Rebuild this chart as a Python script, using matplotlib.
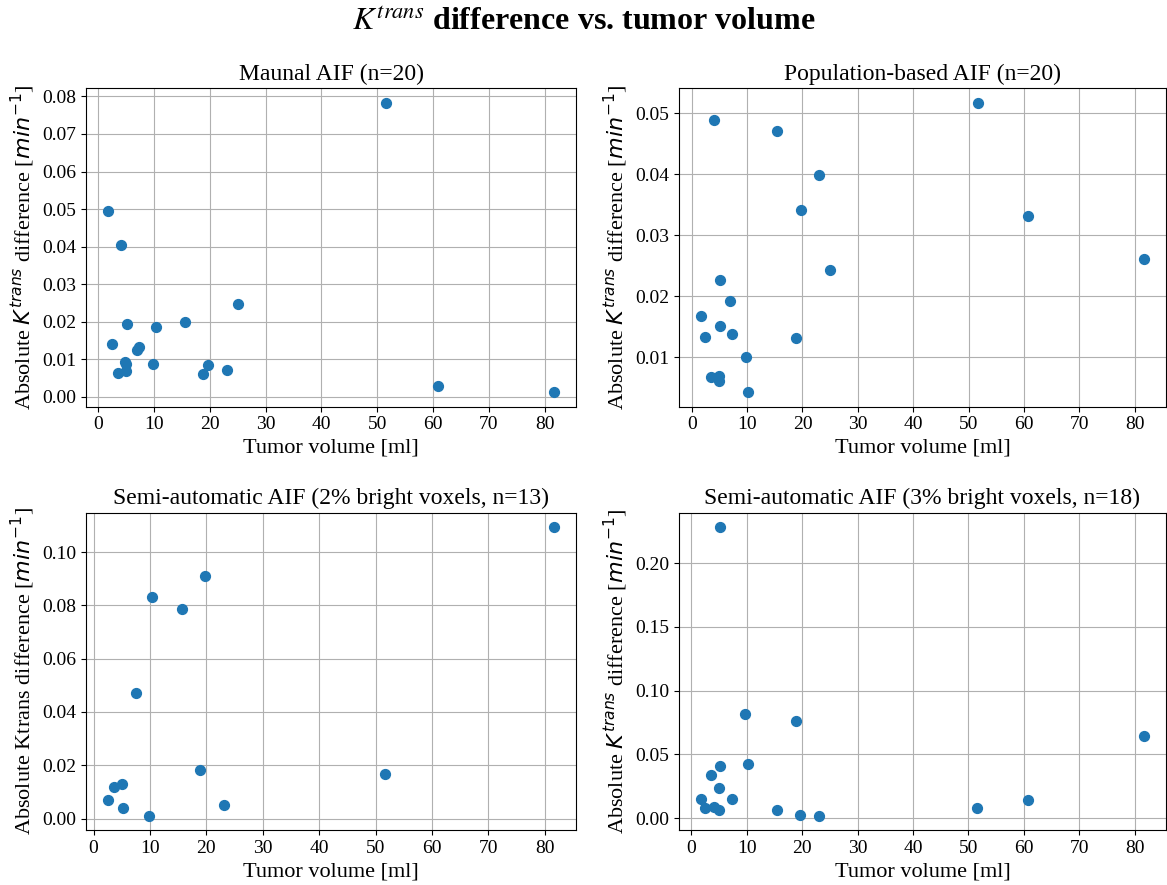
import matplotlib
matplotlib.use("Agg")
import matplotlib.pyplot as plt
from matplotlib.ticker import MultipleLocator

plt.rcParams['font.family'] = ['Liberation Serif', 'DejaVu Serif']

# manual AIF (n=20)
vol_manual = [1.85, 2.5, 3.65, 4.2, 4.9, 5.1, 5.1, 5.25, 7.0, 7.35, 9.85, 10.35,
              15.5, 18.8, 19.7, 23.1, 25.1, 51.6, 60.9, 81.6]
diff_manual = [0.0496, 0.0140, 0.0063, 0.0404, 0.0092, 0.0088, 0.0069, 0.0194,
               0.0124, 0.0133, 0.0088, 0.0187, 0.0199, 0.0060, 0.0084, 0.0072,
               0.0247, 0.0783, 0.0029, 0.00125]

# population-based AIF (n=20)
vol_pop = [1.7, 2.4, 3.55, 4.1, 4.95, 4.95, 5.1, 5.15, 6.9, 7.25, 9.8, 10.2,
           15.45, 18.75, 19.65, 23.0, 25.05, 51.6, 60.8, 81.6]
diff_pop = [0.0168, 0.0133, 0.0068, 0.0489, 0.0070, 0.0062, 0.0226, 0.0152,
            0.0193, 0.0138, 0.0100, 0.0043, 0.0470, 0.0132, 0.0342, 0.0398,
            0.0243, 0.0517, 0.0331, 0.0261]

# semi-automatic, 2% bright voxels (n=13)
vol_semi2 = [2.6, 3.7, 5.1, 5.25, 7.45, 9.9, 10.35, 15.6, 18.95, 19.7, 23.1, 51.6, 81.6]
diff_semi2 = [0.0068, 0.0119, 0.0129, 0.0041, 0.0470, 0.0011, 0.0832, 0.0785,
              0.0182, 0.0912, 0.0051, 0.0167, 0.1094]

# semi-automatic, 3% bright voxels (n=18)
vol_semi3 = [1.8, 2.45, 3.6, 4.05, 4.95, 5.0, 5.2, 5.2, 7.3, 9.8, 10.2, 15.5,
             18.85, 19.65, 23.0, 51.55, 60.75, 81.6]
diff_semi3 = [0.0154, 0.0081, 0.0339, 0.0091, 0.0237, 0.0065, 0.2282, 0.0409,
              0.0154, 0.0816, 0.0422, 0.0068, 0.0761, 0.0029, 0.0021, 0.0083,
              0.0143, 0.0647]

titles = ["Maunal AIF (n=20)", "Population-based AIF (n=20)",
          "Semi-automatic AIF (2% bright voxels, n=13)",
          "Semi-automatic AIF (3% bright voxels, n=18)"]
ylab = r"Absolute $K^{trans}$ difference [$min^{-1}$]"
ylabels = [ylab, ylab, r"Absolute Ktrans difference [$min^{-1}$]", ylab]
xs = [vol_manual, vol_pop, vol_semi2, vol_semi3]
ys = [diff_manual, diff_pop, diff_semi2, diff_semi3]

fig = plt.figure(figsize=(11.67, 8.85), dpi=100)
# axes boxes in figure fractions
boxes = [[0.0737, 0.5405, 0.4199, 0.3597],
         [0.5818, 0.5405, 0.4172, 0.3597],
         [0.0737, 0.0621, 0.4199, 0.3586],
         [0.5818, 0.0621, 0.4172, 0.3586]]

for i in range(4):
    ax = fig.add_axes(boxes[i])
    ax.scatter(xs[i], ys[i], s=50, color='tab:blue', zorder=3)
    ax.grid(True)
    ax.set_title(titles[i], fontsize=17)
    ax.set_xlabel("Tumor volume [ml]", fontsize=16)
    ax.set_ylabel(ylabels[i], fontsize=16)
    ax.set_xticks(range(0, 90, 10))
    ax.tick_params(labelsize=14)
    if i == 0:
        ax.yaxis.set_major_locator(MultipleLocator(0.01))

fig.suptitle(r"$K^{trans}$ difference vs. tumor volume", fontsize=23,
             fontweight='bold', y=0.975, va='center', math_fontfamily='stix')

fig.savefig("out.png", dpi=100)
